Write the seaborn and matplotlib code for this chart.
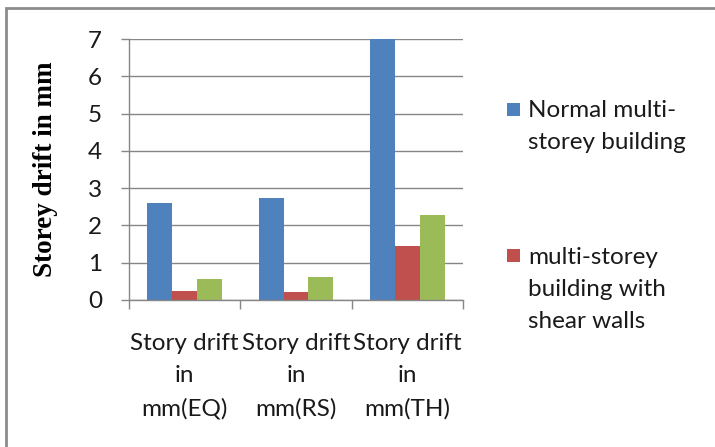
import matplotlib
matplotlib.use("Agg")
import matplotlib.pyplot as plt
from matplotlib.patches import Rectangle
import seaborn as sns
import pandas as pd

categories = ["Story drift\nin\nmm(EQ)", "Story drift\nin\nmm(RS)", "Story drift\nin\nmm(TH)"]
series_names = ["Normal multi-\nstorey building", "multi-storey\nbuilding with\nshear walls", "Series 3"]
normal_vals = [2.60, 2.73, 7.00]
shear_vals = [0.25, 0.21, 1.46]
third_vals = [0.57, 0.63, 2.28]
y_ticks = [0, 1, 2, 3, 4, 5, 6, 7]
colors = ["#4F81BD", "#C0504D", "#9BBB59"]

rows = []
for name, vals in zip(series_names, [normal_vals, shear_vals, third_vals]):
    for c, v in zip(categories, vals):
        rows.append({"cat": c, "val": v, "series": name})
df = pd.DataFrame(rows)

sns.set_theme(style="white")
plt.rcParams["font.family"] = ["Lato", "DejaVu Sans"]

W, H = 715, 447
fig = plt.figure(figsize=(W / 100, H / 100), dpi=100)
ax = fig.add_axes([129 / W, 1 - 300 / H, (463 - 129) / W, (300 - 39) / H])

sns.barplot(data=df, x="cat", y="val", hue="series", hue_order=series_names,
            order=categories, palette=colors, width=0.67, gap=0,
            saturation=1, linewidth=0, legend=False, ax=ax)

grey = "#868686"
txt = "#1a1a1a"
ax.set_xlim(-0.5, 2.5)
ax.set_ylim(0, 7)
ax.set_yticks(y_ticks)
ax.set_yticklabels([str(t) for t in y_ticks])
ax.yaxis.grid(True, color=grey, linewidth=1.0)
ax.set_axisbelow(True)
for s in ["top", "right"]:
    ax.spines[s].set_visible(False)
for s in ["left", "bottom"]:
    ax.spines[s].set_color(grey)
    ax.spines[s].set_linewidth(1.0)
ax.tick_params(axis="y", which="major", direction="out", length=5.5, width=1.0,
               color=grey, labelsize=17.5, pad=14, left=True, labelcolor=txt)
ax.set_xticks([-0.5, 0.5, 1.5, 2.5], minor=True)
ax.tick_params(axis="x", which="minor", direction="out", length=6.5, width=1.0,
               color=grey, bottom=True)
ax.tick_params(axis="x", which="major", length=0, labelsize=17.5, pad=24,
               labelcolor=txt)
for lbl in ax.get_xticklabels():
    lbl.set_linespacing(1.65)
ax.set_xlabel("")
ax.set_ylabel("Storey drift in mm", fontsize=19.5, fontweight="bold",
              family="Liberation Serif", color="#000000", labelpad=10)
ax.yaxis.set_label_coords(-(129 - 58) / (463 - 129), 0.5)

# legend (only the first two series are shown in the reference)
leg_entries = [(0, 103, 110), (1, 249, 257)]
for idx, sq_top, line_center in leg_entries:
    fig.patches.append(Rectangle((507 / W, 1 - (sq_top + 13) / H), 13 / W, 13 / H,
                                 transform=fig.transFigure, facecolor=colors[idx],
                                 edgecolor="none"))
    fig.text(528 / W, 1 - (line_center - 10) / H, series_names[idx], ha="left",
             va="top", fontsize=17.5, linespacing=1.65, color=txt)

# chart border
fig.patches.append(Rectangle((6 / W, -0.05), 1.2, 1 - 8 / H + 0.05,
                             transform=fig.transFigure, facecolor="none",
                             edgecolor="#8c8c8c", linewidth=2))

fig.savefig("out.png", dpi=100)
